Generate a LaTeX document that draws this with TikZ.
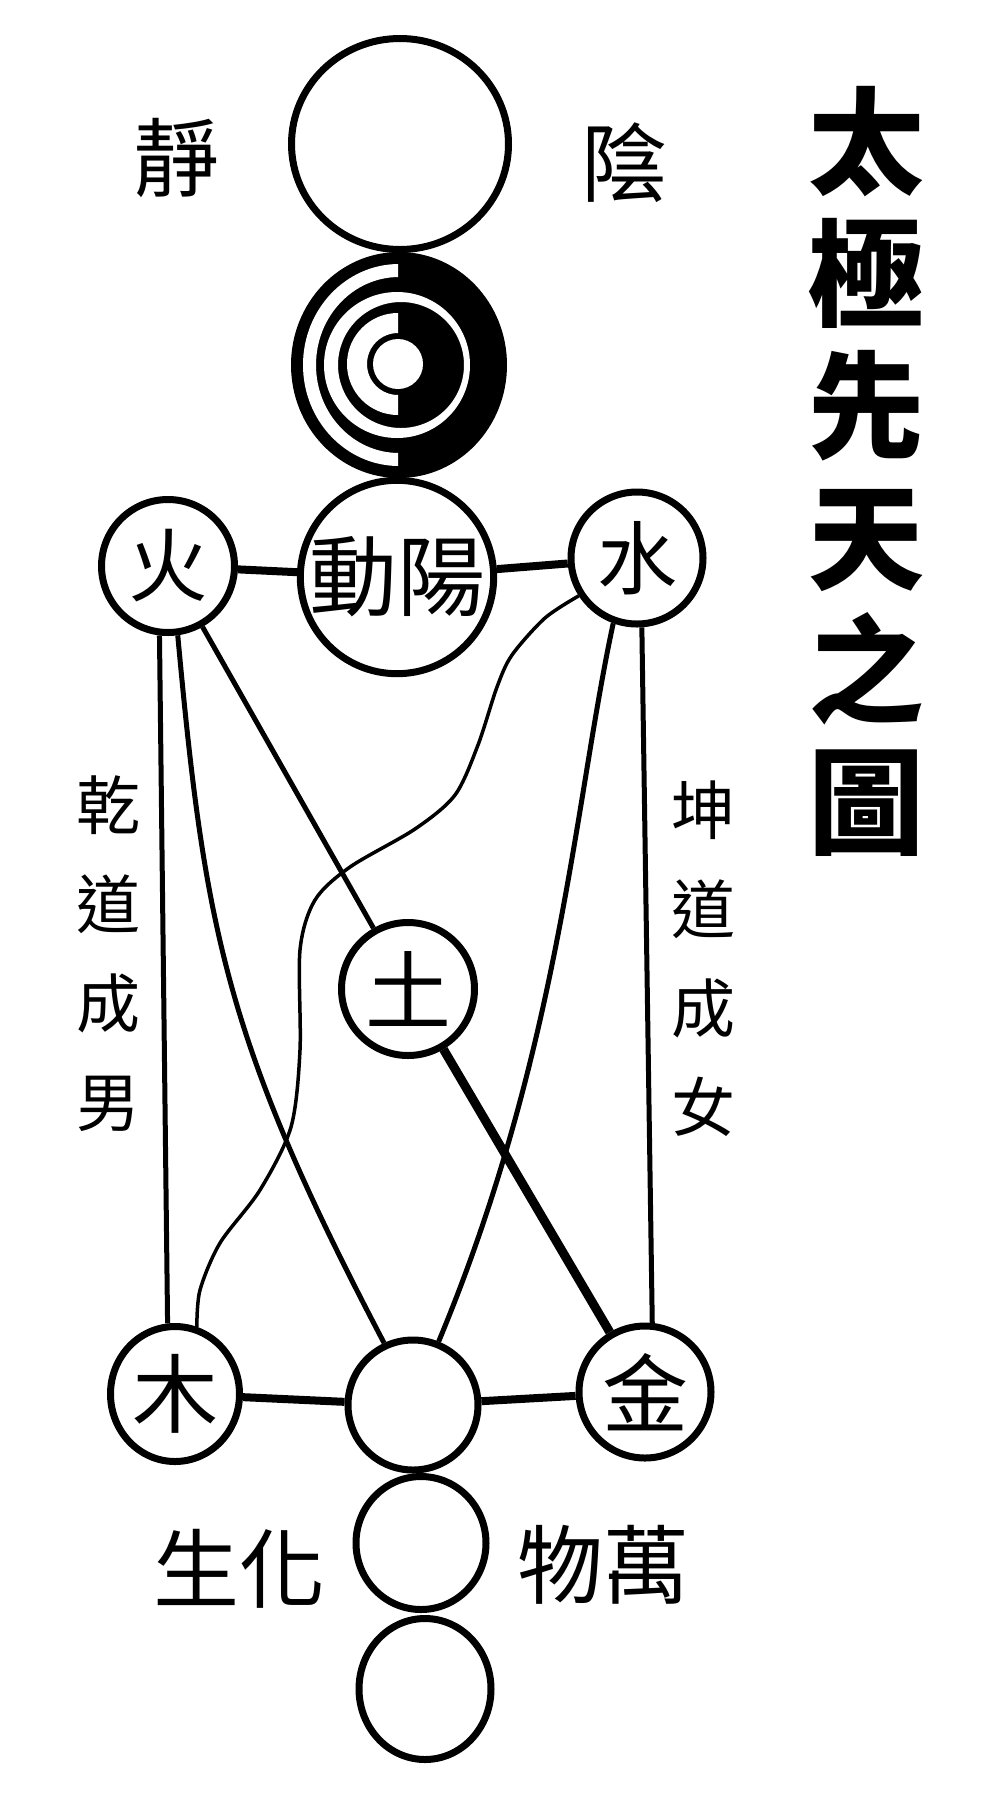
\documentclass[tikz,border=0pt]{standalone}
\usepackage{fontspec}
\usepackage{tikz}
\usetikzlibrary{shapes.geometric}
\newfontfamily\hanzi{Noto Sans CJK TC}

\begin{document}
\begin{tikzpicture}[
  x=1pt, y=-1pt,
  ring/.style={draw, line width=7pt, circle, inner sep=0pt},
  oval/.style={draw, line width=7pt, ellipse, inner sep=0pt},
  bond/.style={line width=8pt},
  thread/.style={line width=5pt},
  hair/.style={line width=3.5pt},
  zi/.style={font=\hanzi\fontsize{86}{90}\selectfont, inner sep=0pt},
  zismall/.style={font=\hanzi\fontsize{64}{99}\selectfont, align=center, inner sep=0pt},
  titlezi/.style={font=\hanzi\bfseries\fontsize{116}{132}\selectfont, align=center, inner sep=0pt}
]
\useasboundingbox (0,0) rectangle (1000,1800);
\fill[white] (0,0) rectangle (1000,1800);

% column of circles
\node[oval, minimum width=217, minimum height=211] (wuji) at (400,144) {};
\node[ellipse, fill=black, inner sep=0pt, minimum width=216, minimum height=226] (taiji) at (399,365) {};
\fill[white, even odd rule] (397,365) circle[radius=73] (401,365) circle[radius=63];
\begin{scope}
  \clip (280,240) rectangle (398,490);
  \fill[white, even odd rule] (399,365) ellipse[x radius=96, y radius=101]
    (399,365) ellipse[x radius=83, y radius=88];
  \fill[white, even odd rule] (398,364) circle[radius=51] (398,364) circle[radius=31];
\end{scope}
\fill[white] (398,364) circle[radius=25];
\node[ring, minimum size=191, zi, font=\hanzi\fontsize{88}{90}\selectfont] (dongyang) at (397,577) {動陽};

% five elements
\node[ring, minimum size=133, zi, font=\hanzi\fontsize{80}{80}\selectfont] (huo) at (168,566) {火};
\node[ring, minimum size=132, zi, font=\hanzi\fontsize{80}{80}\selectfont] (shui) at (637,558) {水};
\node[ring, minimum size=133, zi] (tu) at (408,989) {土};
\node[oval, minimum width=129, minimum height=135, zi] (mu) at (175,1394) {木};
\node[ring, minimum size=130] (nannv) at (413,1405) {};
\node[ring, minimum size=132, zi] (jin) at (645,1392) {金};

% lower column
\node[oval, minimum width=130, minimum height=133] (wanwu) at (421,1543) {};
\node[oval, minimum width=132, minimum height=141] (wanwuxia) at (425,1689) {};

% texts
\node[zi] (jing) at (176,158) {靜};
\node[zi] (yin) at (624,163) {陰};
\node[titlezi] (tuming) at (866,471) {太\\極\\先\\天\\之\\圖};
\node[zismall] (qiandao) at (108,954) {乾\\道\\成\\男};
\node[zismall] (kundao) at (703,959) {坤\\道\\成\\女};
\node[zi] (huasheng) at (239,1569) {生化};
\node[zi] (wanwuzi) at (603,1565) {物萬};

% connectors
\draw[bond] (huo) -- (dongyang);
\draw[bond] (dongyang) -- (shui);
\draw[bond] (mu) -- (nannv);
\draw[bond] (nannv) -- (jin);
\draw[thread] (huo.263) -- (mu.96);
\draw[thread] (shui.274) -- (jin.84);
\draw[thread] (huo) -- (tu);
\draw[line width=9pt] (tu) -- (jin);
\draw[thread] (huo.278) .. controls (205,930) and (225,1040) .. (nannv.115);
\draw[thread] (shui.250) .. controls (575,800) and (560,1050) .. (nannv.68);
\draw[hair] plot[smooth, tension=.5] coordinates {(shui.213) (545,618) (512,655)
  (497,687) (478,745) (455,795) (415,829) (350,867) (315,900) (300,950) (300,1050)
  (291,1127) (260,1190) (220,1243) (200,1290) (mu.72)};
\end{tikzpicture}
\end{document}
